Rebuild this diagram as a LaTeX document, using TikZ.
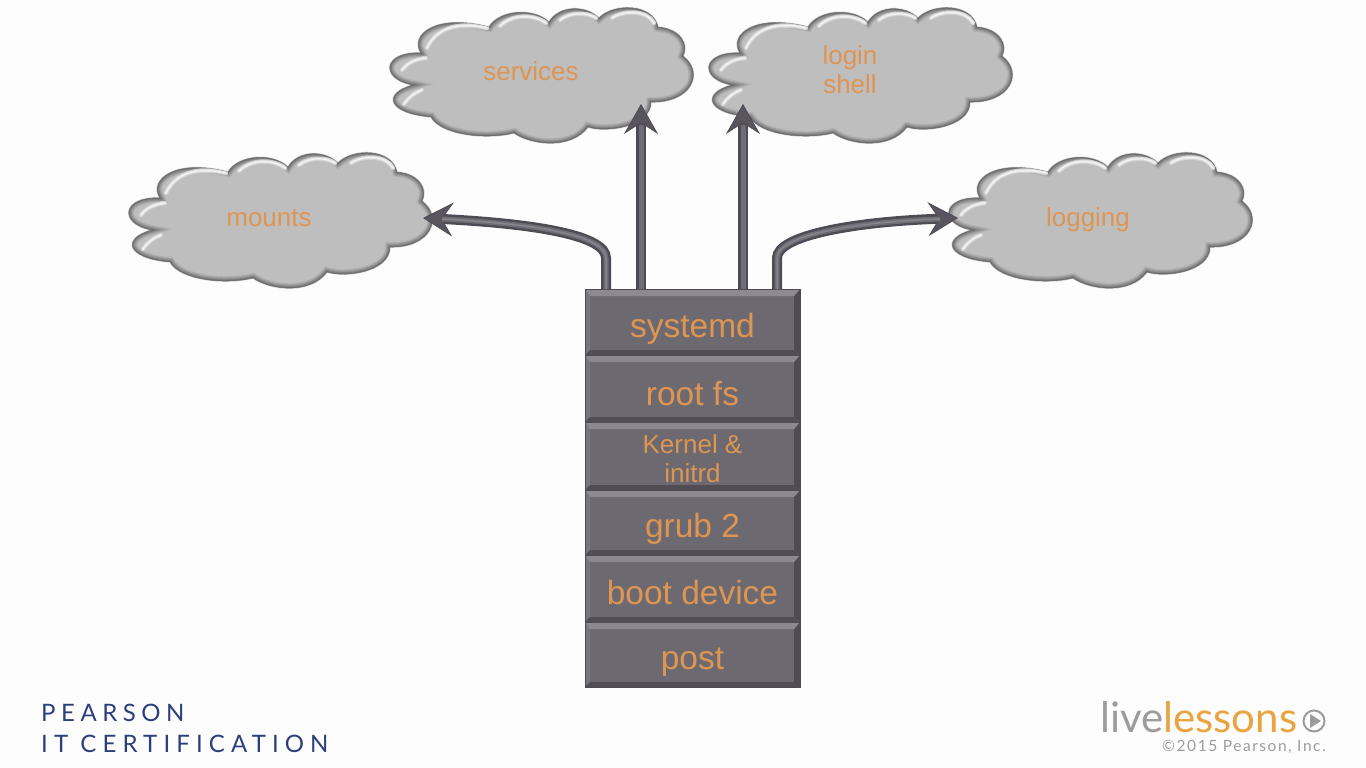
\documentclass[tikz,border=0pt]{standalone}
\usepackage{fontspec}
\setmainfont{Liberation Sans}
\newfontfamily\logofont{Lato}
\usetikzlibrary{arrows.meta}
\definecolor{pagebg}{HTML}{FDFDFD}
\definecolor{labelorange}{HTML}{DF9552}
\definecolor{boxface}{HTML}{6C6A70}
\definecolor{boxtop}{HTML}{8C8A90}
\definecolor{boxleft}{HTML}{78767C}
\definecolor{boxright}{HTML}{4E4B53}
\definecolor{boxbottom}{HTML}{504D55}
\definecolor{cloudface}{HTML}{BEBEBF}
\definecolor{navy}{HTML}{2C3F7C}
\definecolor{logogray}{HTML}{9C9C9C}
\definecolor{logoorange}{HTML}{E9A33F}
\definecolor{shaftdark}{HTML}{4E4B54}
\definecolor{shaftmid}{HTML}{6F6D75}
\definecolor{shaftlight}{HTML}{87858C}
\def\cloudoutline{(160,198) .. controls (148,180) and (175,158) .. (228,172)
 .. controls (238,155) and (272,152) .. (288,167)
 .. controls (298,150) and (325,150) .. (338,163)
 .. controls (352,148) and (392,148) .. (397,172)
 .. controls (420,174) and (428,190) .. (422,201)
 .. controls (444,218) and (430,248) .. (390,247)
 .. controls (390,272) and (345,278) .. (327,272)
 .. controls (310,295) and (270,290) .. (253,278)
 .. controls (225,285) and (180,280) .. (170,262)
 .. controls (125,258) and (122,238) .. (152,230)
 .. controls (118,224) and (122,196) .. (160,198) -- cycle}
\def\cloudlights{(165,190) .. controls (175,168) and (200,164) .. (225,170)
 (238,168) .. controls (250,156) and (272,156) .. (284,165)
 (298,162) .. controls (308,154) and (325,154) .. (334,160)
 (350,160) .. controls (362,152) and (385,152) .. (392,165)
 (140,212) .. controls (146,204) and (155,201) .. (164,200)
 (142,246) .. controls (146,240) and (152,235) .. (160,232)}
\newcommand\drawcloud[2]{%
 \begin{scope}[shift={(#1,#2)}]
  \draw[line width=1.6pt,color=black!18] \cloudoutline;
  \begin{scope}
   \clip \cloudoutline;
   \fill[cloudface] (100,140) rectangle (460,300);
   \foreach \w/\c in {10/6,8/14,6/22,4/31,2/42}{
    \draw[line width=\w pt,color=black!\c!cloudface] \cloudoutline;
   }
   \begin{scope}[shift={(1,3)}]
    \draw[line width=4.5pt,color=white!30!cloudface,line cap=round] \cloudlights;
    \draw[line width=2.5pt,color=white!60!cloudface,line cap=round] \cloudlights;
    \draw[line width=1pt,color=white!85!cloudface,line cap=round] \cloudlights;
   \end{scope}
  \end{scope}
 \end{scope}}
\tikzset{
 x=1pt,y=-1pt,
 cloudlabel/.style={text=labelorange,font=\fontsize{26}{29}\selectfont,align=center,inner sep=0pt},
 stackbox/.style={rectangle,fill=boxface,draw=boxright,line width=.6pt,minimum width=215pt,inner sep=0pt,
  text=labelorange,align=center,font=\fontsize{33.5}{36}\selectfont,text depth=0pt,
  path picture={
   \fill[boxleft] (path picture bounding box.north west) -- (path picture bounding box.south west)
     -- ([xshift=5pt,yshift=5pt]path picture bounding box.south west) -- ([xshift=5pt,yshift=-7pt]path picture bounding box.north west) -- cycle;
   \fill[boxright] (path picture bounding box.north east) -- (path picture bounding box.south east)
     -- ([xshift=-6pt,yshift=5pt]path picture bounding box.south east) -- ([xshift=-6pt,yshift=-7pt]path picture bounding box.north east) -- cycle;
   \fill[boxbottom] (path picture bounding box.south west) -- (path picture bounding box.south east)
     -- ([xshift=-6pt,yshift=5pt]path picture bounding box.south east) -- ([xshift=5pt,yshift=5pt]path picture bounding box.south west) -- cycle;
   \fill[boxtop] (path picture bounding box.north west) -- (path picture bounding box.north east)
     -- ([xshift=-6pt,yshift=-7pt]path picture bounding box.north east) -- ([xshift=5pt,yshift=-7pt]path picture bounding box.north west) -- cycle;
  }},
 shaftbase/.style={draw=shaftdark,line width=10pt,-{Stealth[length=30pt,width=34pt,inset=11pt,fill=shaftdark!70!shaftmid,line width=.8pt]}},
 shaftcore/.style={draw=shaftmid,line width=5pt},
 shaftshine/.style={draw=shaftlight,line width=1.5pt},
}
\begin{document}
\begin{tikzpicture}[x=1pt,y=-1pt]
\useasboundingbox (0,0) rectangle (1366,768);
\fill[pagebg] (0,0) rectangle (1366,768);
% clouds
\drawcloud{0}{0}
\drawcloud{820}{0}
\begin{scope}
 \clip (0,8) rectangle (1366,768);
 \drawcloud{261}{-145}
 \drawcloud{580}{-145}
\end{scope}
\node[cloudlabel] (mounts) at (269,218) {mounts};
\node[cloudlabel] (logging) at (1088,220) {logging};
\node[cloudlabel] (services) at (531,71) {services};
\node[cloudlabel] (login) at (850,70) {login\\shell};
% stack
\node[stackbox,minimum height=66pt,text height=30pt] (systemd) at (692.5,322) {systemd};
\node[stackbox,minimum height=67pt,text height=33pt] (rootfs) at (692.5,388.5) {root fs};
\node[stackbox,minimum height=68pt] (kernel) at (692.5,456) {};
\node[stackbox,minimum height=65pt,text height=29pt] (grub) at (692.5,522.5) {grub 2};
\node[stackbox,minimum height=67pt,text height=31pt] (bootdev) at (692.5,588.5) {boot device};
\node[stackbox,minimum height=65pt,text height=29pt] (post) at (692.5,654.5) {post};
\node[cloudlabel] (kerneltext) at (692.5,459) {Kernel \&\\initrd};
% connector ends
\coordinate (tipmounts) at (423,218);
\coordinate (tiplogging) at (958,218);
\coordinate (tipservices) at (641,104);
\coordinate (tiplogin) at (743,104);
\coordinate (footm) at (606,289);
\coordinate (foots) at (641,289);
\coordinate (footl) at (743,289);
\coordinate (footg) at (777,289);
\coordinate (stopm) at (442,219);
\coordinate (stopg) at (940,219);
\coordinate (stops) at (641,125);
\coordinate (stopl) at (743,125);
% connectors
\draw[shaftbase] (footm) -- (606,258) .. controls (606,236) and (540,224) .. (tipmounts);
\draw[shaftcore] (footm) -- (606,258) .. controls (606,236) and (540,224) .. (stopm);
\draw[shaftshine] (footm) -- (606,258) .. controls (606,236) and (540,224) .. (stopm);
\draw[shaftbase] (footg) -- (777,258) .. controls (777,236) and (850,222) .. (tiplogging);
\draw[shaftcore] (footg) -- (777,258) .. controls (777,236) and (850,222) .. (stopg);
\draw[shaftshine] (footg) -- (777,258) .. controls (777,236) and (850,222) .. (stopg);
\draw[shaftbase] (foots) -- (tipservices);
\draw[shaftcore] (foots) -- (stops);
\draw[shaftbase] (footl) -- (tiplogin);
\draw[shaftcore] (footl) -- (stopl);
% logos
\node[anchor=base west,inner sep=0pt,text=navy,font=\logofont\fontsize{24}{24}\selectfont\addfontfeature{LetterSpace=23}] (pearson) at (41,721) {PEARSON};
\node[anchor=base west,inner sep=0pt,text=navy,font=\logofont\fontsize{24}{24}\selectfont\addfontfeature{LetterSpace=25.5}] (itcert) at (41,752) {IT CERTIFICATION};
\node[anchor=base west,inner sep=0pt,font=\logofont\fontsize{42}{42}\selectfont] (live) at (1100,732) {\textcolor{logogray}{live}\textcolor{logoorange}{lessons}};
\node[circle,draw=logogray,line width=2pt,minimum size=21pt,inner sep=0pt] (play) at (1314,721) {};
\fill[logogray] (1310,714) -- (1321,721) -- (1310,728) -- cycle;
\node[anchor=base east,inner sep=0pt,text=logogray,font=\logofont\fontsize{15.5}{15.5}\selectfont\addfontfeature{LetterSpace=10}] (copy) at (1326,751) {©2015 Pearson, Inc.};
\end{tikzpicture}
\end{document}
